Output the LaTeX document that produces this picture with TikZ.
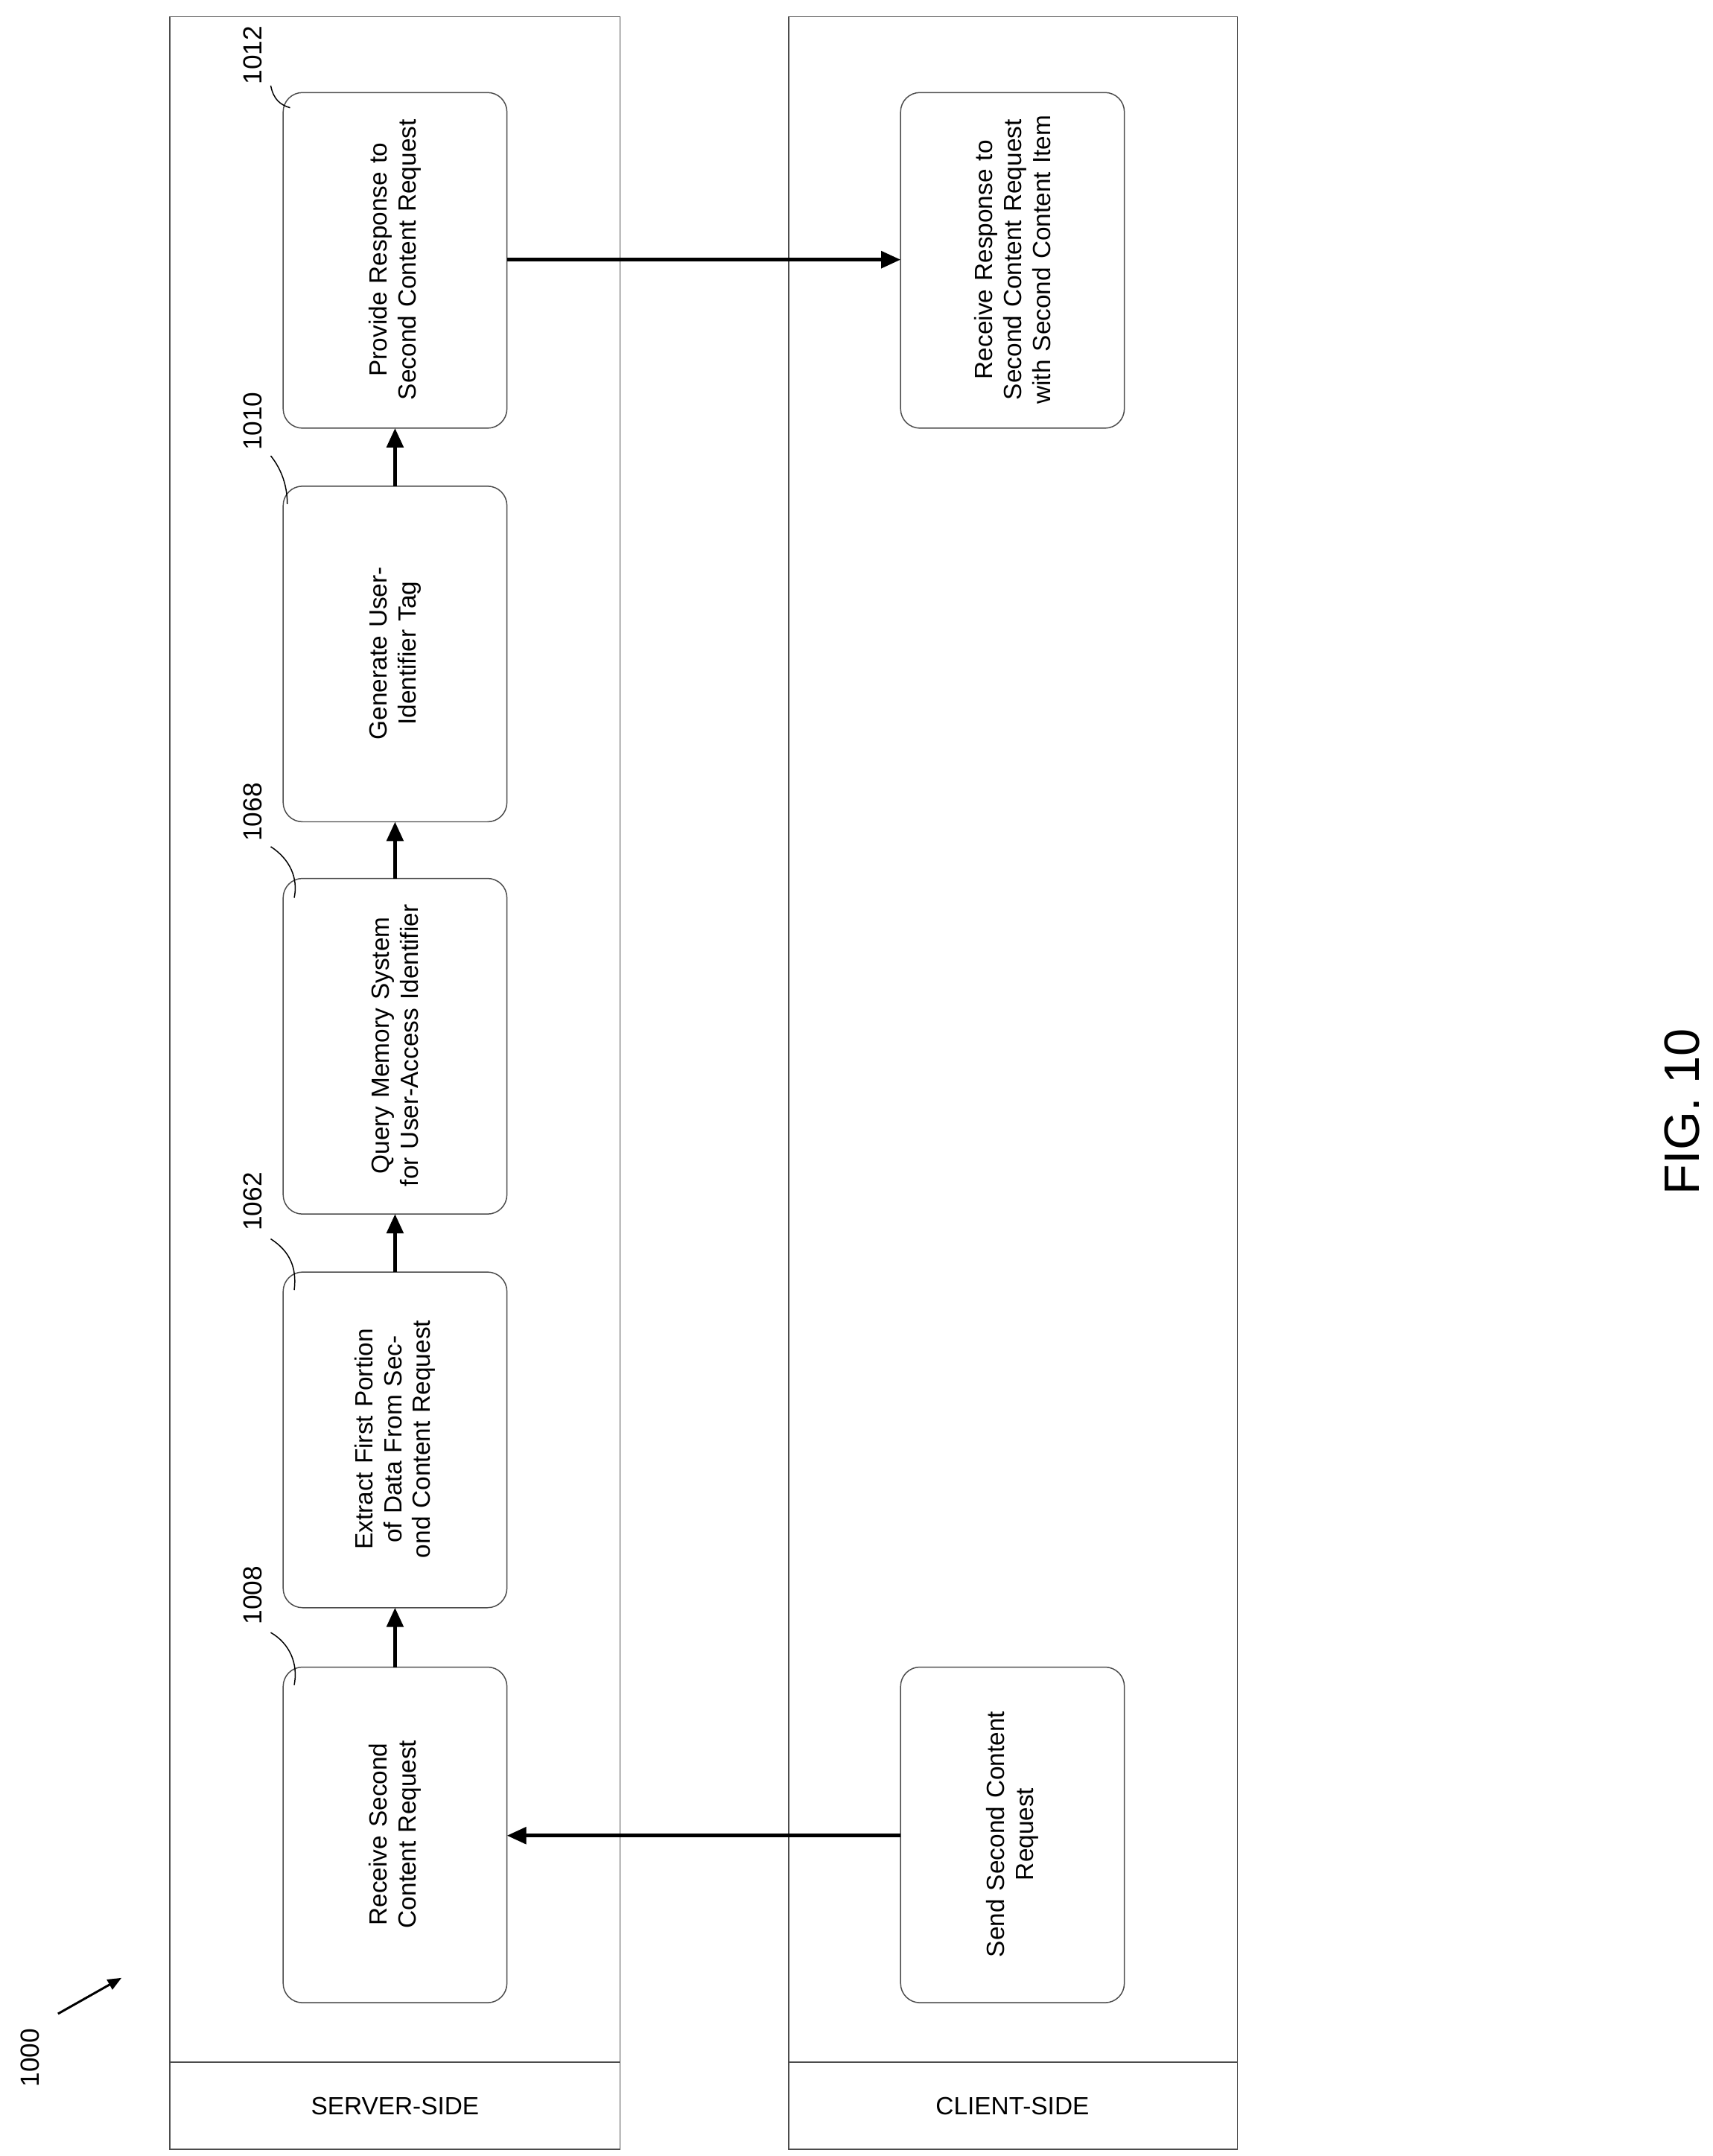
\documentclass[tikz,border=0pt]{standalone}
\usepackage{fontspec}
\setmainfont{Liberation Sans}
\usetikzlibrary{arrows.meta}
\begin{document}
\begin{tikzpicture}[x=1pt,y=-1pt,
  stepbox/.style={draw=black!70,rounded corners=14pt,line width=0.8pt},
  btxt/.style={rotate=90,align=center,text width=225pt,font=\fontsize{18}{21}\selectfont},
  lane/.style={draw=black!70,line width=0.8pt},
  flow/.style={-{Triangle[length=14pt,width=12pt]},line width=2.6pt},
  ref/.style={rotate=90,font=\fontsize{19}{22}\selectfont},
  lead/.style={line width=0.8pt}]
\useasboundingbox (0,0) rectangle (1240,1561);
% lanes
\draw[lane] (123,12) rectangle (449,1556);
\draw[lane] (123,1493) -- (449,1493);
\node[font=\fontsize{18}{21}\selectfont] (sl) at (286,1525) {SERVER-SIDE};
\draw[lane] (571,12) rectangle (896,1556);
\draw[lane] (571,1493) -- (896,1493);
\node[font=\fontsize{18}{21}\selectfont] (cl) at (733,1525) {CLIENT-SIDE};
% server boxes
\draw[stepbox] (205,67) rectangle (367,310); \node[btxt] (b1012) at (286,188) {Provide Response to Second Content Request};
\draw[stepbox] (205,352) rectangle (367,595); \node[btxt] (b1010) at (286,473) {Generate User-\\Identifier Tag};
\draw[stepbox] (205,636) rectangle (367,879); \node[btxt] (b1068) at (286,757) {Query Memory System for User-Access Identifier};
\draw[stepbox] (205,921) rectangle (367,1164); \node[btxt] (b1062) at (286,1042) {Extract First Portion of Data From Second Content Request};
\draw[stepbox] (205,1207) rectangle (367,1450); \node[btxt] (b1008) at (286,1328) {Receive Second\\Content Request};
% client boxes
\draw[stepbox] (652,67) rectangle (814,310); \node[btxt] (c1) at (733,188) {Receive Response to Second Content Request with Second Content Item};
\draw[stepbox] (652,1207) rectangle (814,1450); \node[btxt] (c2) at (733,1328) {Send Second Content\\Request};
% arrows
\coordinate (a1) at (286,1207); \coordinate (a2) at (286,1164);
\draw[flow] (a1) -- (a2);
\coordinate (a3) at (286,921); \coordinate (a4) at (286,879);
\draw[flow] (a3) -- (a4);
\coordinate (a5) at (286,636); \coordinate (a6) at (286,595);
\draw[flow] (a5) -- (a6);
\coordinate (a7) at (286,352); \coordinate (a8) at (286,310);
\draw[flow] (a7) -- (a8);
\coordinate (h1) at (367,188); \coordinate (h2) at (652,188);
\draw[flow] (h1) -- (h2);
\coordinate (h3) at (652,1329); \coordinate (h4) at (367,1329);
\draw[flow] (h3) -- (h4);
% reference labels
\node[ref] (r1012) at (183,40) {1012};
\draw[lead] (196,62) .. controls (198,72) and (203,76) .. (210,78);
\node[ref] (r1010) at (183,305) {1010};
\draw[lead] (196,330) .. controls (204,340) and (208,352) .. (208,365);
\node[ref] (r1068) at (183,588) {1068};
\draw[lead] (196,613) .. controls (210,622) and (216,636) .. (213,650);
\node[ref] (r1062) at (183,870) {1062};
\draw[lead] (196,897) .. controls (210,906) and (215,918) .. (213,934);
\node[ref] (r1008) at (183,1155) {1008};
\draw[lead] (196,1182) .. controls (210,1190) and (216,1205) .. (213,1220);
\node[ref] (r1000) at (22,1490) {1000};
\coordinate (p1000a) at (42,1458); \coordinate (p1000b) at (88,1432);
\draw[-{Triangle[length=10pt,width=8pt]},line width=1.6pt] (p1000a) -- (p1000b);
\node[rotate=90,font=\fontsize{36}{40}\selectfont] (fig) at (1218,805) {FIG. 10};
\end{tikzpicture}
\end{document}
